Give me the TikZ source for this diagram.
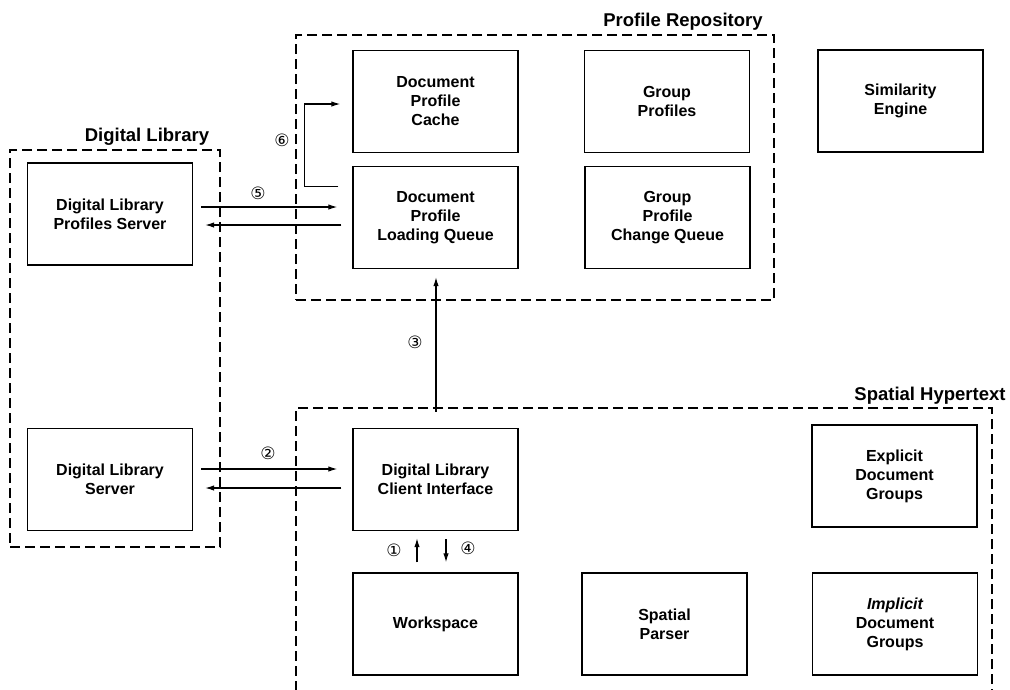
\documentclass[tikz,border=0pt]{standalone}
\usepackage{fontspec}
\setmainfont{Liberation Sans}
\newfontfamily\circfont{DejaVu Sans}
\usetikzlibrary{arrows.meta}
\begin{document}
\begin{tikzpicture}[x=1pt,y=-1pt,
  comp/.style={draw, line width=1.4pt, minimum width=165pt, minimum height=102pt,
    align=center, inner sep=0pt, font=\bfseries\fontsize{16}{19}\selectfont},
  grp/.style={draw, line width=1.4pt, dash pattern=on 10pt off 5pt, inner sep=0pt},
  gtitle/.style={font=\bfseries\fontsize{18.5}{22}\selectfont, inner sep=0pt},
  num/.style={font=\circfont\fontsize{17}{17}\selectfont, inner sep=0pt},
  arr/.style={line width=1.2pt, -{Latex[length=9pt,width=5.5pt]}},
  ln/.style={line width=1.2pt}]
\useasboundingbox (0,0) rectangle (1010,689);
\clip (0,0) rectangle (1010,689);

% groups
\node[grp, minimum width=478pt, minimum height=265pt] (pr) at (535,167.5) {};
\node[grp, minimum width=210pt, minimum height=397pt] (dl) at (115,348.5) {};
\node[grp, minimum width=696pt, minimum height=330pt] (sh) at (644,573) {};
\node[gtitle] (prt) at (683,22) {Profile Repository};
\node[gtitle] (dlt) at (147,137) {Digital Library};
\node[gtitle] (sht) at (930,396) {Spatial Hypertext};

% components
\node[comp] (dpc) at (435.5,101.5) {Document\\Profile\\Cache};
\node[comp] (dplq) at (435.5,217.5) {Document\\Profile\\Loading Queue};
\node[comp] (gp) at (667,101.5) {Group\\Profiles};
\node[comp] (gpcq) at (667.5,217.5) {Group\\Profile\\Change Queue};
\node[comp] (sim) at (900.5,101) {Similarity\\Engine};
\node[comp] (dlps) at (110,214) {Digital Library\\Profiles Server};
\node[comp] (dls) at (110,479.5) {Digital Library\\Server};
\node[comp] (dlci) at (435.5,479.5) {Digital Library\\Client Interface};
\node[comp] (ws) at (435.5,624) {Workspace};
\node[comp] (sp) at (664.5,624) {Spatial\\Parser};
\node[comp] (edg) at (894.5,476) {Explicit\\Document\\Groups};
\node[comp] (idg) at (895,624) {{\itshape Implicit}\\Document\\Groups};

% connectors
\draw[arr] ([shift={(-14,21)}]dplq.north west) -| ([shift={(-48,2.5)}]dpc.west) -- ([shift={(-12,2.5)}]dpc.west);
\draw[arr] ([shift={(8,-7)}]dlps.east) -- ([shift={(-15,-10.5)}]dplq.west);
\draw[arr] ([shift={(-11,7.5)}]dplq.west) -- ([shift={(12,11)}]dlps.east);
\draw[arr] ([shift={(8,-10.5)}]dls.east) -- ([shift={(-15,-10.5)}]dlci.west);
\draw[arr] ([shift={(-11,8.5)}]dlci.west) -- ([shift={(12,8.5)}]dls.east);
\draw[arr] ([shift={(0.5,-16)}]dlci.north) -- ([shift={(0.5,8)}]dplq.south);
\draw[arr] ([shift={(-18.5,-10)}]ws.north) -- ([shift={(-18.5,7)}]dlci.south);
\draw[arr] ([shift={(10.5,8)}]dlci.south) -- ([shift={(10.5,-10)}]ws.north);

% labels
\node[num] (n6) at (282,140) {⑥};
\node[num] (n5) at (258,193) {⑤};
\node[num] (n2) at (268,453) {②};
\node[num] (n3) at (415,342) {③};
\node[num] (n1) at (394,550) {①};
\node[num] (n4) at (468,548) {④};
\end{tikzpicture}
\end{document}
